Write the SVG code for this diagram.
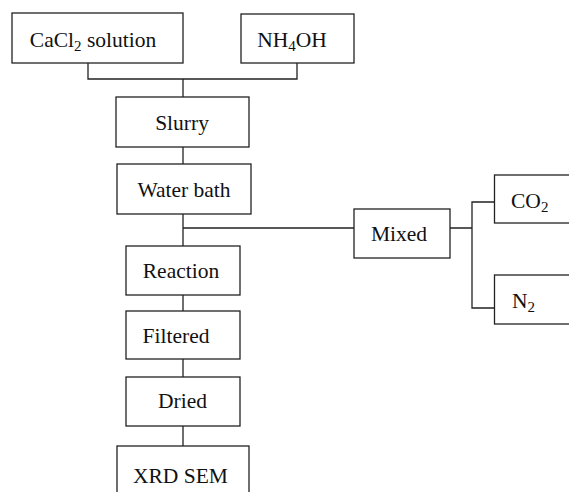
<svg xmlns="http://www.w3.org/2000/svg" width="569" height="492" viewBox="0 0 569 492">
<style>
rect{fill:#fff;stroke:#222;stroke-width:1.3}
.c path{fill:none;stroke:#222;stroke-width:1.3}
text{font-family:"Liberation Serif","Times New Roman",serif;font-size:21.5px;fill:#111;text-anchor:middle}
.s{font-size:15px}
.l{text-anchor:start}
</style>
<rect x="0" y="0" width="569" height="492" style="stroke:none"/>
<g class="c">
<path d="M88 63V79H297V63M183 79V97"/>
<path d="M183 147V164"/>
<path d="M183 214V246M183 228H354"/>
<path d="M450 228H472M494 202H472V308H494"/>
<path d="M183 295V311M183 359V377M183 426V446"/>
</g>
<g id="cacl2"><rect x="12" y="13" width="171" height="50"/><text x="93" y="47">CaCl<tspan class="s" dy="4">2</tspan><tspan dy="-4"> solution</tspan></text></g>
<g id="nh4oh"><rect x="241" y="14" width="113" height="49"/><text x="292" y="47">NH<tspan class="s" dy="4">4</tspan><tspan dy="-4">OH</tspan></text></g>
<g id="slurry"><rect x="116" y="97" width="133" height="50"/><text x="182" y="130">Slurry</text></g>
<g id="waterbath"><rect x="117" y="164" width="134" height="50"/><text x="184" y="197">Water bath</text></g>
<g id="mixed"><rect x="354" y="209" width="96" height="49"/><text x="399" y="241">Mixed</text></g>
<g id="co2"><rect x="494.5" y="175" width="100" height="48"/><text class="l" x="511" y="208">CO<tspan class="s" dy="4">2</tspan></text></g>
<g id="n2"><rect x="494.5" y="275" width="100" height="49"/><text class="l" x="512" y="308">N<tspan class="s" dy="4">2</tspan></text></g>
<g id="reaction"><rect x="126" y="246" width="114" height="49"/><text x="181" y="278">Reaction</text></g>
<g id="filtered"><rect x="126" y="311" width="114" height="48"/><text x="176" y="343">Filtered</text></g>
<g id="dried"><rect x="126" y="377" width="114" height="49"/><text x="182.5" y="408">Dried</text></g>
<g id="xrdsem"><rect x="117" y="446" width="132" height="60"/><text x="180.5" y="483">XRD SEM</text></g>
</svg>
